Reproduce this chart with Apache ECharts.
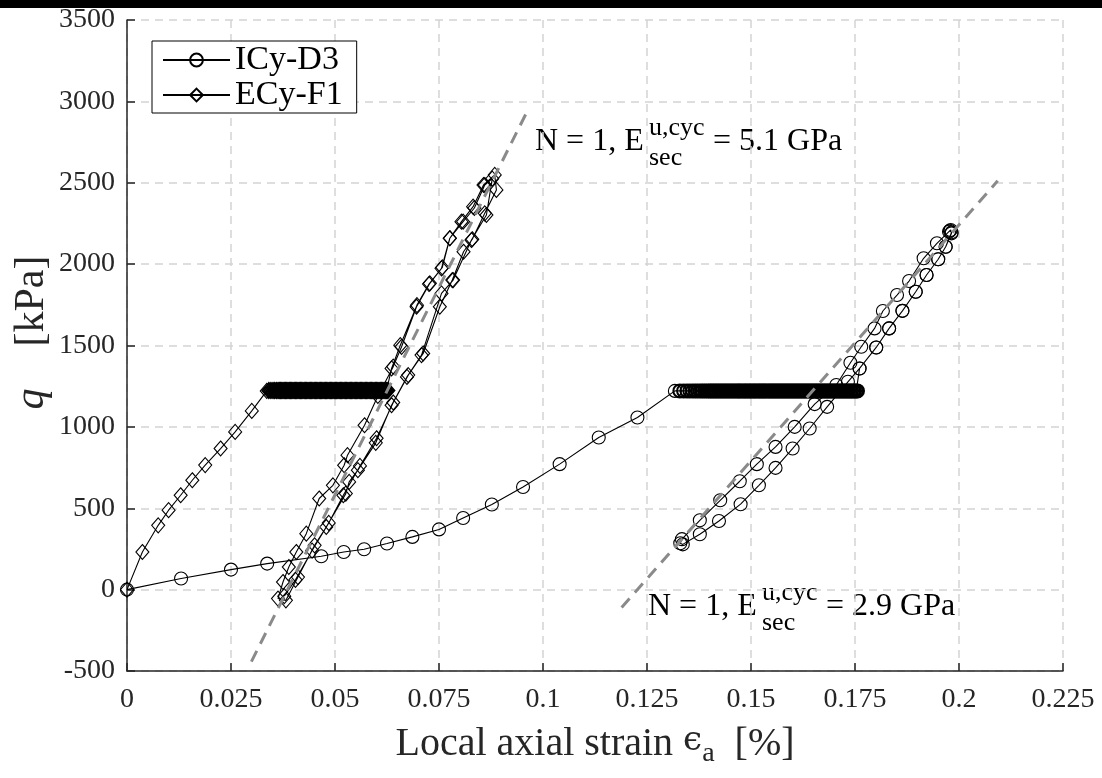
<!DOCTYPE html>
<html>
<head>
<meta charset="utf-8">
<script src="https://cdn.jsdelivr.net/npm/echarts@6/dist/echarts.min.js"></script>
<style>
  html, body { margin: 0; padding: 0; background: #ffffff; }
  #chart { width: 1102px; height: 778px; }
</style>
</head>
<body>
<div id="chart"></div>
<script>
// ---- tick labels -------------------------------------------------------
const xTickLabels = ['0', '0.025', '0.05', '0.075', '0.1', '0.125', '0.15', '0.175', '0.2', '0.225'];
const yTickLabels = ['-500', '0', '500', '1000', '1500', '2000', '2500', '3000', '3500'];

// ---- ICy-D3 (circles): monotonic loading, hold, unload/reload cycle -----
const icyLoadStrain = [0, 0.0130, 0.0250, 0.0337, 0.0467, 0.0521, 0.0570, 0.0625, 0.0686, 0.0750,
  0.0808, 0.0877, 0.0952, 0.1040, 0.1134, 0.1227, 0.1317];
const icyLoadQ = [0, 68, 123, 160, 205, 231, 248, 283, 324, 370,
  440, 523, 631, 771, 935, 1058, 1221];
const icyHoldQ = 1221;
const icyHoldStrain = [0.1329, 0.1338, 0.1346, 0.1353, 0.1360, 0.1366, 0.1372, 0.1378, 0.1383, 0.1388,
  0.1393, 0.1398, 0.1402, 0.1406, 0.1410, 0.1414, 0.1418, 0.1422, 0.1426, 0.1430, 0.1434, 0.1438,
  0.1442, 0.1446, 0.1450, 0.1454, 0.1458, 0.1462, 0.1466, 0.1470, 0.1473, 0.1477, 0.1481, 0.1485,
  0.1488, 0.1492, 0.1496, 0.1499, 0.1503, 0.1507, 0.1510, 0.1514, 0.1518, 0.1521, 0.1525, 0.1528,
  0.1532, 0.1535, 0.1539, 0.1543, 0.1546, 0.1550, 0.1553, 0.1557, 0.1560, 0.1564, 0.1567, 0.1571,
  0.1574, 0.1578, 0.1581, 0.1585, 0.1588, 0.1592, 0.1595, 0.1599, 0.1602, 0.1606, 0.1609, 0.1613,
  0.1616, 0.1620, 0.1623, 0.1627, 0.1630, 0.1634, 0.1637, 0.1641, 0.1644, 0.1648, 0.1651, 0.1655,
  0.1658, 0.1662, 0.1665, 0.1669, 0.1672, 0.1676, 0.1679, 0.1683, 0.1686, 0.1690, 0.1693, 0.1697,
  0.1700, 0.1704, 0.1707, 0.1711, 0.1714, 0.1718, 0.1721, 0.1725, 0.1728, 0.1732, 0.1735, 0.1739,
  0.1742, 0.1746, 0.1749, 0.1753, 0.1756];
const icyCycleStrain = [
  0.1761, 0.1801, 0.1832, 0.1864, 0.1896, 0.1922, 0.1950, 0.1968, 0.1982, 0.1980,
  0.1976, 0.1947, 0.1915, 0.1880, 0.1851, 0.1817, 0.1797, 0.1765, 0.1739, 0.1705,
  0.1653, 0.1605, 0.1559, 0.1514, 0.1473, 0.1426, 0.1377, 0.1334, 0.1330,
  0.1336, 0.1377, 0.1423, 0.1475, 0.1519, 0.1559, 0.1600, 0.1641, 0.1683, 0.1733,
  0.1761, 0.1801, 0.1832, 0.1864, 0.1896, 0.1922, 0.1950, 0.1968, 0.1982, 0.1978];
const icyCycleQ = [
  1359, 1488, 1605, 1713, 1830, 1933, 2030, 2107, 2189, 2210,
  2199, 2128, 2036, 1896, 1810, 1712, 1605, 1492, 1394, 1257,
  1140, 1000, 877, 771, 666, 549, 426, 310, 285,
  278, 340, 422, 525, 641, 748, 867, 990, 1123, 1277,
  1359, 1488, 1605, 1713, 1830, 1933, 2030, 2107, 2195, 2205];

// ---- ECy-F1 (diamonds) --------------------------------------------------
const ecyLoadStrain = [0, 0.0037, 0.0075, 0.0100, 0.0129, 0.0157, 0.0188, 0.0225, 0.0260, 0.0300, 0.0336];
const ecyLoadQ = [0, 231, 395, 488, 580, 672, 765, 867, 969, 1098, 1221];
const ecyHoldQ = 1224;
const ecyHoldStrain = [0.0341, 0.0346, 0.0351, 0.0355, 0.0359, 0.0363, 0.0366, 0.0369, 0.0372, 0.0375,
  0.0378, 0.0381, 0.0384, 0.0387, 0.0390, 0.0393, 0.0396, 0.0399, 0.0402, 0.0405, 0.0408, 0.0411,
  0.0414, 0.0417, 0.0420, 0.0423, 0.0426, 0.0429, 0.0432, 0.0435, 0.0438, 0.0441, 0.0444, 0.0447,
  0.0450, 0.0453, 0.0456, 0.0459, 0.0462, 0.0465, 0.0468, 0.0471, 0.0474, 0.0477, 0.0480, 0.0483,
  0.0486, 0.0489, 0.0492, 0.0495, 0.0498, 0.0501, 0.0504, 0.0507, 0.0510, 0.0513, 0.0516, 0.0519,
  0.0522, 0.0525, 0.0528, 0.0531, 0.0534, 0.0537, 0.0540, 0.0543, 0.0546, 0.0549, 0.0552, 0.0555,
  0.0558, 0.0561, 0.0564, 0.0567, 0.0570, 0.0573, 0.0576, 0.0579, 0.0582, 0.0585, 0.0588, 0.0591,
  0.0594, 0.0597, 0.0600, 0.0603, 0.0606, 0.0609, 0.0612, 0.0615, 0.0618, 0.0621, 0.0624, 0.0627];
const ecyCycleStrain = [
  0.0636, 0.0657, 0.0697, 0.0726, 0.0758, 0.0776, 0.0804, 0.0832, 0.0857, 0.0884,
  0.0888, 0.0860, 0.0830, 0.0809, 0.0782, 0.0752, 0.0712, 0.0673, 0.0636, 0.0598,
  0.0555, 0.0534, 0.0526, 0.0479, 0.0451, 0.0411, 0.0382,
  0.0363, 0.0375, 0.0389, 0.0407, 0.0431, 0.0462, 0.0495, 0.0522, 0.0530, 0.0571,
  0.0603, 0.0640, 0.0660, 0.0696, 0.0728, 0.0756, 0.0776, 0.0808, 0.0835, 0.0860, 0.0878,
  0.0864, 0.0828, 0.0784, 0.0756, 0.0708, 0.0676, 0.0640, 0.0600, 0.0560, 0.0520,
  0.0485, 0.0445, 0.0405, 0.0378];
const ecyCycleQ = [
  1359, 1502, 1748, 1878, 1980, 2159, 2261, 2353, 2486, 2548,
  2456, 2312, 2153, 2076, 1902, 1738, 1451, 1307, 1133, 902,
  734, 662, 590, 385, 272, 77, -66,
  -55, 47, 139, 231, 344, 560, 641, 764, 826, 1010,
  1190, 1370, 1492, 1738, 1882, 1974, 2159, 2261, 2345, 2486, 2525,
  2302, 2148, 1902, 1820, 1441, 1318, 1150, 930, 760, 580,
  410, 240, 60, -40];

// ---- secant moduli of the first cycle (GPa) and the strain span of each guide line
const secantModulusGPa = [5.1, 2.9];
const secantMidStrain = [0.06295, 0.1641];
const secantMidQ = [1243, 1201];
const secantHalfSpan = [0.03305, 0.0452];

// ---- assemble series data ----------------------------------------------
function zip(xs, ys) { return xs.map((x, i) => [x, ys[i]]); }
// hold-phase points are very dense; a slightly heavier outline lets them merge into a band
function hold(xs, q) {
  return xs.map(x => ({ value: [x, q], itemStyle: { borderWidth: 2 } }));
}

const icyData = zip(icyLoadStrain, icyLoadQ)
  .concat(hold(icyHoldStrain, icyHoldQ))
  .concat(zip(icyCycleStrain, icyCycleQ));
const ecyData = zip(ecyLoadStrain, ecyLoadQ)
  .concat(hold(ecyHoldStrain, ecyHoldQ))
  .concat(zip(ecyCycleStrain, ecyCycleQ));

// secant line: slope in kPa per % strain = E[GPa] * 1e4
function secantLine(k) {
  const s = secantModulusGPa[k] * 1e4;
  const e0 = secantMidStrain[k] - secantHalfSpan[k];
  const e1 = secantMidStrain[k] + secantHalfSpan[k];
  return [[e0, secantMidQ[k] + s * (e0 - secantMidStrain[k])],
          [e1, secantMidQ[k] + s * (e1 - secantMidStrain[k])]];
}

const SERIF = "'Liberation Serif', 'Times New Roman', serif";
const AXIS_COLOR = '#262626';

const markerStyle = {
  color: 'rgba(255,255,255,0)',
  borderColor: '#000',
  borderWidth: 1.1
};

// annotation "N = 1, E^{u,cyc}_{sec} = x GPa"
function secantLabel(x, baseline, valueText) {
  const f = 32, s = 26;
  const mid = (b, size) => b - 0.3375 * size;
  return {
    type: 'group',
    silent: true,
    z: 100,
    children: [
      { type: 'text', x: x, y: mid(baseline, f),
        style: { text: 'N = 1, E', font: f + 'px ' + SERIF, fill: '#000', verticalAlign: 'middle', align: 'left' } },
      { type: 'text', x: x + 114, y: mid(baseline - 15, s),
        style: { text: 'u,cyc', font: s + 'px ' + SERIF, fill: '#000', verticalAlign: 'middle', align: 'left' } },
      { type: 'text', x: x + 114, y: mid(baseline + 15, s),
        style: { text: 'sec', font: s + 'px ' + SERIF, fill: '#000', verticalAlign: 'middle', align: 'left' } },
      { type: 'text', x: x + 178, y: mid(baseline, f),
        style: { text: '= ' + valueText + ' GPa', font: f + 'px ' + SERIF, fill: '#000', verticalAlign: 'middle', align: 'left' } }
    ]
  };
}

const chart = echarts.init(document.getElementById('chart'), null, { renderer: 'canvas' });

chart.setOption({
  animation: false,
  backgroundColor: '#ffffff',
  grid: { left: 127, right: 39, top: 20, bottom: 107, containLabel: false, outerBoundsMode: 'none' },
  legend: {
    data: ['ICy-D3', 'ECy-F1'],
    orient: 'vertical',
    left: 152,
    top: 41,
    padding: [2, 14, 1, 10],
    itemGap: 1,
    itemWidth: 67,
    itemHeight: 16,
    borderColor: '#000',
    borderWidth: 1,
    backgroundColor: '#fff',
    selectedMode: false,
    textStyle: { fontFamily: SERIF, fontSize: 34, color: '#000', lineHeight: 34 }
  },
  xAxis: {
    type: 'value',
    min: 0, max: 0.225, interval: 0.025,
    name: '{t|Local axial strain }{e|ϵ}{s|a}{t|  [%]}',
    nameLocation: 'middle',
    nameGap: 53,
    nameMoveOverlap: false,
    nameTextStyle: {
      rich: {
        t: { fontFamily: SERIF, fontSize: 40, color: AXIS_COLOR, lineHeight: 44, verticalAlign: 'top' },
        e: { fontFamily: "'DejaVu Serif', serif", fontSize: 34, color: AXIS_COLOR, lineHeight: 44, verticalAlign: 'top' },
        s: { fontFamily: SERIF, fontSize: 28, color: AXIS_COLOR, lineHeight: 28, verticalAlign: 'bottom', padding: [34, 0, 0, 0] }
      }
    },
    axisLine: { onZero: false, lineStyle: { color: AXIS_COLOR, width: 1.5 } },
    axisTick: { inside: true, length: 8, lineStyle: { color: AXIS_COLOR, width: 1.5 } },
    axisLabel: {
      fontFamily: SERIF, fontSize: 28, color: AXIS_COLOR, margin: 15,
      formatter: v => xTickLabels[Math.round(v / 0.025)]
    },
    splitLine: { show: true, lineStyle: { color: '#d4d4d4', width: 1.5, type: [8, 6] } }
  },
  yAxis: {
    type: 'value',
    min: -500, max: 3500, interval: 500,
    name: '{i|q}    [kPa]',
    nameLocation: 'middle',
    nameGap: 74,
    nameMoveOverlap: false,
    nameTextStyle: {
      fontFamily: SERIF, fontSize: 42, color: AXIS_COLOR,
      padding: [0, 0, 0, 26],
      rich: { i: { fontFamily: SERIF, fontSize: 42, fontStyle: 'italic', color: AXIS_COLOR } }
    },
    axisLine: { lineStyle: { color: AXIS_COLOR, width: 1.5 } },
    axisTick: { inside: true, length: 8, lineStyle: { color: AXIS_COLOR, width: 1.5 } },
    axisLabel: {
      fontFamily: SERIF, fontSize: 28, color: AXIS_COLOR, margin: 12,
      formatter: v => yTickLabels[Math.round((v + 500) / 500)]
    },
    splitLine: { show: true, lineStyle: { color: '#d4d4d4', width: 1.5, type: [8, 6] } }
  },
  series: [
    {
      name: 'ICy-D3', type: 'line', data: icyData,
      symbol: 'circle', symbolSize: 13, showAllSymbol: true, sampling: null,
      itemStyle: markerStyle,
      lineStyle: { color: '#000', width: 1.1 },
      emphasis: { disabled: true }, z: 3
    },
    {
      name: 'ECy-F1', type: 'line', data: ecyData,
      symbol: 'diamond', symbolSize: [13, 15], showAllSymbol: true, sampling: null,
      itemStyle: markerStyle,
      lineStyle: { color: '#000', width: 1.1 },
      emphasis: { disabled: true }, z: 3
    },
    {
      name: 'secant-1', type: 'line', data: secantLine(0),
      symbol: 'none', silent: true, z: 6,
      lineStyle: { color: '#8a8a8a', width: 3, type: [12, 8] }
    },
    {
      name: 'secant-2', type: 'line', data: secantLine(1),
      symbol: 'none', silent: true, z: 6,
      lineStyle: { color: '#8a8a8a', width: 3, type: [12, 8] }
    }
  ],
  graphic: [
    { type: 'rect', left: 0, top: 0, shape: { width: 1102, height: 8 }, style: { fill: '#000' }, silent: true },
    secantLabel(535, 152, secantModulusGPa[0].toFixed(1)),
    secantLabel(648, 617, secantModulusGPa[1].toFixed(1))
  ]
});
</script>
</body>
</html>
